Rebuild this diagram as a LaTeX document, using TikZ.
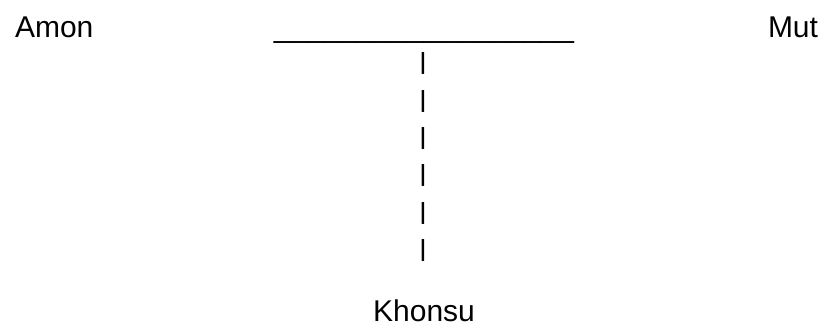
\documentclass[tikz,border=0pt]{standalone}
\usepackage{fontspec}
\usepackage{graphicx}
\setmainfont{Liberation Sans}
\begin{document}
\begin{tikzpicture}[x=1pt,y=1pt,
  lbl/.style={inner sep=0pt, outer sep=0pt, font=\fontsize{30}{36}\selectfont, text=black},
  barglyph/.style={lbl}]
\useasboundingbox (0,0) rectangle (824,-327);
\node[lbl, anchor=base west] (amon) at (15,-37.5) {Amon};
\node[lbl, anchor=base] (rule) at (424,-37) {\_\_\_\_\_\_\_\_\_\_\_\_\_\_\_\_\_\_};
\node[lbl, anchor=base east] (mut) at (818,-37.5) {Mut};
\foreach \i/\y in {1/63, 2/101.5, 3/138, 4/175.5, 5/213, 6/250.5}
  \node[barglyph] (bar\i) at (423,-\y) {\scalebox{1}[0.78]{|}};
\node[lbl, anchor=base] (khonsu) at (424,-321.5) {Khonsu};
\end{tikzpicture}
\end{document}
